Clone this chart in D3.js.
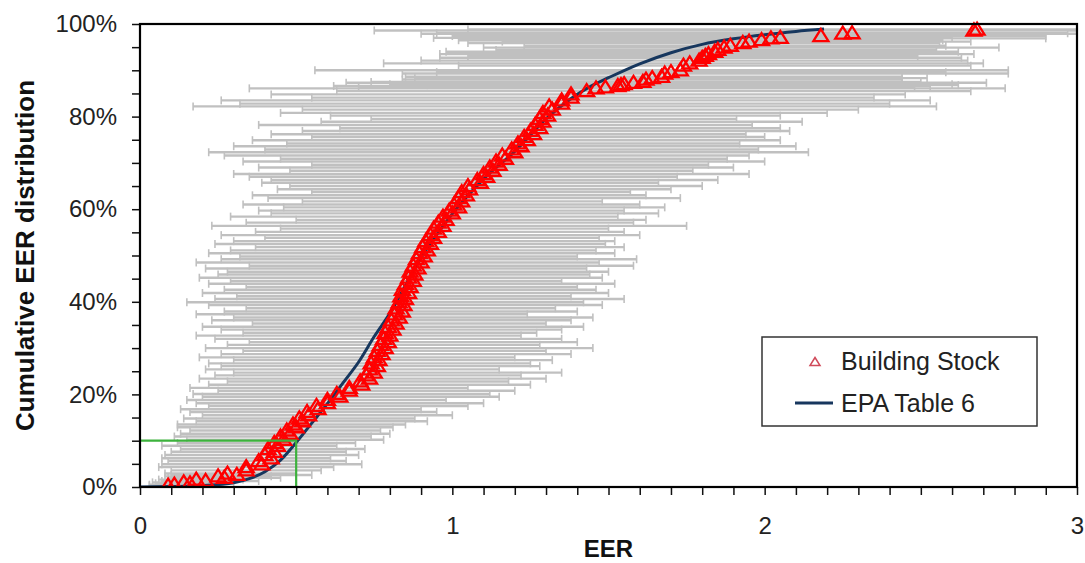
<!DOCTYPE html>
<html><head><meta charset="utf-8">
<script src="https://cdn.jsdelivr.net/npm/d3@7"></script>
<style>body{margin:0;background:#fff}svg{display:block;font-family:"Liberation Sans",Arial,sans-serif}</style>
</head><body><svg id="c" width="1085" height="563"></svg>
<script>
// ---- Building stock: EER (x), cumulative share (%), error-bar range ----
const eer = [
 0.09,0.14,0.18,0.25,0.28,0.34,0.34,0.39,0.38,0.42,
 0.40,0.43,0.41,0.44,0.43,0.46,0.45,0.48,0.47,0.50,
 0.49,0.52,0.51,0.54,0.535,0.57,0.565,0.60,0.60,0.64,
 0.63,0.67,0.67,0.71,0.705,0.735,0.725,0.75,0.735,0.76,
 0.74,0.765,0.75,0.775,0.76,0.785,0.77,0.795,0.78,0.80,
 0.785,0.81,0.795,0.82,0.805,0.83,0.815,0.84,0.82,0.845,
 0.83,0.85,0.835,0.86,0.84,0.865,0.85,0.875,0.86,0.88,
 0.865,0.89,0.875,0.90,0.885,0.91,0.895,0.92,0.905,0.93,
 0.915,0.94,0.93,0.955,0.94,0.97,0.955,0.98,0.97,1.00,
 0.99,1.02,1.005,1.03,1.02,1.045,1.03,1.055,1.05,1.09,
 1.08,1.11,1.10,1.13,1.12,1.15,1.14,1.17,1.16,1.20,
 1.19,1.22,1.21,1.24,1.23,1.26,1.25,1.28,1.265,1.29,
 1.28,1.305,1.29,1.32,1.31,1.35,1.35,1.38,1.38,1.43,
 1.46,1.53,1.55,1.61,1.62,1.67,1.68,1.73,1.74,1.79,
 1.80,1.82,1.85,1.89,1.93,1.99,2.05,2.18,2.28,2.67,
 1.49,1.54,1.58,1.64,1.70,1.76,1.81,1.84,1.87,1.95,
 2.25,2.68,2.02,0.11,0.16,0.21,0.27,0.31
];
const cumPct = [
 0.3,1.0,1.6,2.3,2.9,3.6,4.3,4.9,5.6,6.2,
 6.9,7.6,8.2,8.9,9.5,10.2,10.9,11.5,12.2,12.9,
 13.5,14.2,14.8,15.5,16.2,16.8,17.5,18.1,18.8,19.5,
 20.1,20.8,21.4,22.1,22.8,23.4,24.1,24.7,25.4,26.1,
 26.7,27.4,28.0,28.7,29.4,30.0,30.7,31.3,32.0,32.7,
 33.3,34.0,34.6,35.3,36.0,36.6,37.3,37.9,38.6,39.3,
 39.9,40.6,41.2,41.9,42.6,43.2,43.9,44.5,45.2,45.9,
 46.5,47.2,47.8,48.5,49.2,49.8,50.5,51.1,51.8,52.5,
 53.1,53.8,54.4,55.1,55.8,56.4,57.1,57.7,58.4,59.1,
 59.7,60.4,61.0,61.7,62.4,63.0,63.7,64.3,65.0,65.7,
 66.3,67.0,67.6,68.3,69.0,69.6,70.3,70.9,71.6,72.3,
 72.9,73.6,74.2,74.9,75.6,76.2,76.9,77.5,78.2,78.9,
 79.5,80.2,80.8,81.5,82.2,82.8,83.5,84.1,84.8,85.5,
 86.1,86.6,87.0,87.5,88.0,88.6,89.3,90.0,91.0,92.1,
 92.7,93.5,94.4,95.3,95.9,96.5,97.0,97.4,98.0,98.6,
 86.3,86.8,87.3,88.3,89.6,91.5,93.1,94.0,94.9,96.2,
 97.9,98.8,96.9,0.5,0.8,1.3,2.0,2.6
];
const errLo = [
 0.03,0.04,0.06,0.08,0.08,0.10,0.06,0.07,0.09,0.07,
 0.08,0.10,0.13,0.07,0.12,0.15,0.11,0.13,0.16,0.12,
 0.12,0.18,0.14,0.20,0.16,0.13,0.22,0.18,0.15,0.20,
 0.17,0.25,0.16,0.22,0.28,0.19,0.24,0.30,0.21,0.26,
 0.22,0.30,0.19,0.26,0.33,0.21,0.28,0.35,0.24,0.18,
 0.33,0.26,0.20,0.36,0.23,0.30,0.18,0.27,0.34,0.22,
 0.15,0.24,0.31,0.20,0.27,0.34,0.22,0.29,0.19,0.25,
 0.28,0.21,0.35,0.18,0.26,0.32,0.22,0.29,0.37,0.24,
 0.30,0.40,0.26,0.37,0.45,0.23,0.34,0.50,0.29,0.42,
 0.38,0.46,0.33,0.52,0.41,0.36,0.55,0.44,0.48,0.39,
 0.42,0.35,0.30,0.48,0.38,0.55,0.33,0.45,0.27,0.22,
 0.40,0.30,0.47,0.36,0.55,0.42,0.52,0.64,0.38,0.58,
 0.74,0.61,0.45,0.52,0.17,0.32,0.26,0.55,0.42,0.63,
 0.35,0.62,0.80,0.74,0.84,0.85,0.84,0.56,1.02,0.90,
 0.96,0.96,1.14,1.23,1.05,1.02,0.94,1.00,0.95,0.75,
 0.70,0.92,0.66,0.88,0.95,0.78,1.05,0.98,1.10,1.16,
 0.90,1.05,1.20,0.03,0.05,0.07,0.09,0.10
];
const errHi = [
 0.17,0.24,0.33,0.42,0.50,0.58,0.62,0.71,0.66,0.61,
 0.70,0.66,0.72,0.63,0.69,0.78,0.74,0.80,0.77,0.81,
 0.85,0.92,0.88,1.00,0.95,0.90,1.05,1.10,0.98,1.15,
 1.12,1.20,1.05,1.25,1.18,1.30,1.22,1.35,1.15,1.28,
 1.25,1.32,1.20,1.38,1.30,1.45,1.28,1.40,1.35,1.22,
 1.27,1.35,1.42,1.30,1.38,1.45,1.24,1.40,1.33,1.48,
 1.42,1.55,1.38,1.50,1.46,1.40,1.52,1.35,1.48,1.44,
 1.50,1.43,1.58,1.47,1.59,1.40,1.52,1.46,1.55,1.49,
 1.52,1.47,1.60,1.55,1.50,1.75,1.58,1.62,1.53,1.66,
 1.55,1.68,1.60,1.48,1.73,1.62,1.57,1.70,1.80,1.66,
 1.85,1.72,1.95,1.77,1.90,1.82,2.00,1.88,1.95,2.14,
 1.98,2.10,1.92,2.05,2.00,1.94,2.08,2.05,1.96,2.12,
 1.91,2.05,2.20,2.30,2.55,2.40,2.53,2.35,2.45,2.66,
 2.77,2.53,2.60,2.50,2.44,2.44,2.78,2.78,2.66,2.65,
 2.63,2.67,2.55,2.58,2.56,2.57,2.60,2.90,2.97,3.00,
 2.48,2.62,2.71,2.52,2.58,2.70,2.49,2.62,2.75,2.66,
 3.00,3.00,2.90,0.22,0.30,0.38,0.45,0.55
];
// ---- EPA Table 6 reference curve ----
const epaEER = [0,0.1,0.2,0.3,0.35,0.4,0.45,0.5,0.55,0.6,0.65,0.7,0.75,0.8,0.85,0.9,0.95,1.0,1.1,1.2,1.3,1.4,1.45,1.5,1.6,1.7,1.8,1.9,2.0,2.1,2.19];
const epaPct = [0,0.1,0.3,0.9,1.8,3.3,5.8,9.6,13.8,18,22.5,27,32.5,37.5,43.5,49.5,54.5,59,66.5,72.5,79.5,84.8,86.8,88.4,91.4,93.8,95.6,96.8,97.7,98.4,98.9];
// ---- guide lines, ticks, labels ----
const guideEER = 0.5, guidePct = 10;
const yTickLabels = ["0%","20%","40%","60%","80%","100%"];
const xTickLabels = ["0","1","2","3"];
const seriesNames = ["Building Stock","EPA Table 6"];
const xTitle = "EER", yTitle = "Cumulative EER distribution";

const svg = d3.select("#c");
const L=140,R=1077,T=24,B=487;
const x = d3.scaleLinear().domain([0,3]).range([L,R]);
const y = d3.scaleLinear().domain([0,100]).range([B,T]);

svg.append("defs").append("clipPath").attr("id","clip")
  .append("rect").attr("x",L).attr("y",T-8).attr("width",R-L).attr("height",B-T+8);

const idx = d3.range(eer.length);
const plot = svg.append("g").attr("clip-path","url(#clip)");

// error bars
const eb = plot.append("g").attr("stroke","#c0c0c0").attr("stroke-width",2.4).attr("fill","none");
eb.selectAll("line.b").data(idx).join("line").attr("class","b")
  .attr("x1",i=>x(errLo[i])).attr("x2",i=>x(errHi[i]))
  .attr("y1",i=>y(cumPct[i])).attr("y2",i=>y(cumPct[i]));
eb.selectAll("line.cl").data(idx).join("line").attr("class","cl").attr("stroke-width",1.6)
  .attr("x1",i=>x(errLo[i])).attr("x2",i=>x(errLo[i]))
  .attr("y1",i=>y(cumPct[i])-4).attr("y2",i=>y(cumPct[i])+4);
eb.selectAll("line.ch").data(idx).join("line").attr("class","ch").attr("stroke-width",1.6)
  .attr("x1",i=>x(errHi[i])).attr("x2",i=>x(errHi[i]))
  .attr("y1",i=>y(cumPct[i])-4).attr("y2",i=>y(cumPct[i])+4);

// EPA line
plot.append("path").datum(d3.range(epaEER.length))
  .attr("fill","none").attr("stroke","#17375e").attr("stroke-width",3)
  .attr("d",d3.line().x(i=>x(epaEER[i])).y(i=>y(epaPct[i])).curve(d3.curveMonotoneX));

// triangles
const tri = "M0,-7L7.5,5L-7.5,5Z";
plot.append("g").selectAll("path").data(idx).join("path")
  .attr("d",tri).attr("transform",i=>`translate(${x(eer[i])},${y(cumPct[i])})`)
  .attr("fill","none").attr("stroke","#ff0000").attr("stroke-width",2.3);

// green guide lines
svg.append("path").attr("fill","none").attr("stroke","#3db23d").attr("stroke-width",2.2)
  .attr("d",`M${x(0)},${y(guidePct)}H${x(guideEER)}V${y(0)}`);

// axes
const yAxis = d3.axisLeft(y).tickValues(d3.range(0,101,5)).tickSize(8).tickPadding(15).tickSizeOuter(0)
  .tickFormat(d=> d%20===0 ? yTickLabels[d/20] : "");
const gy = svg.append("g").attr("transform",`translate(${L},0)`).call(yAxis);
const xAxis = d3.axisBottom(x).tickValues(d3.range(0,31).map(v=>v/10)).tickSize(8).tickPadding(22).tickSizeOuter(0)
  .tickFormat(d=> Math.abs(d-Math.round(d))<1e-9 ? xTickLabels[Math.round(d)] : "");
const gx = svg.append("g").attr("transform",`translate(0,${B})`).call(xAxis);
[gx,gy].forEach(g=>{
  g.select(".domain").remove();
  g.selectAll(".tick line").attr("stroke","#111").attr("stroke-width",1.5);
  g.selectAll(".tick text").attr("fill","#222").style("font-size","24px").style("font-family","'Liberation Sans',Arial,sans-serif");
});

// frame
svg.append("rect").attr("x",L).attr("y",T).attr("width",R-L).attr("height",B-T)
  .attr("fill","none").attr("stroke","#000").attr("stroke-width",2.2);

// titles
svg.append("text").attr("x",(L+R)/2).attr("y",557).attr("text-anchor","middle")
  .style("font-size","24px").style("font-weight","bold").attr("fill","#111").text(xTitle);
svg.append("text").attr("transform",`translate(34,${(T+B)/2}) rotate(-90)`).attr("text-anchor","middle")
  .style("font-size","26px").style("font-weight","bold").attr("fill","#111").text(yTitle);

// legend
const lg = svg.append("g");
lg.append("rect").attr("x",762).attr("y",337).attr("width",275).attr("height",89)
  .attr("fill","#fff").attr("stroke","#333").attr("stroke-width",1.5);
lg.append("path").attr("d","M0,-4.5L5,3.5L-5,3.5Z").attr("transform","translate(815,362)")
  .attr("fill","none").attr("stroke","#d04a5a").attr("stroke-width",1.5);
lg.append("line").attr("x1",795).attr("x2",833).attr("y1",403).attr("y2",403)
  .attr("stroke","#17375e").attr("stroke-width",3);
lg.append("text").attr("x",841).attr("y",370).style("font-size","25px").attr("fill","#222").text(seriesNames[0]);
lg.append("text").attr("x",841).attr("y",412).style("font-size","25px").attr("fill","#222").text(seriesNames[1]);
</script>
</body></html>
